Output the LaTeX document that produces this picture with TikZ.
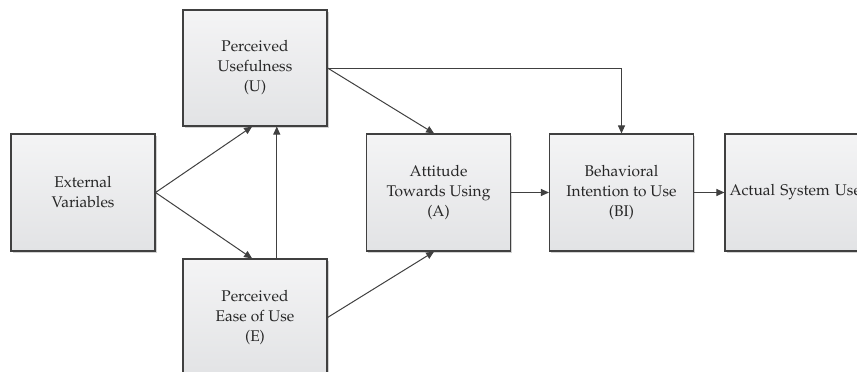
\documentclass[tikz,border=0pt]{standalone}
\usepackage[T1]{fontenc}
\renewcommand{\rmdefault}{ppl}
\usetikzlibrary{arrows.meta,calc,shadows}
\definecolor{edgegray}{HTML}{404040}
\definecolor{textgray}{HTML}{262626}
\definecolor{boxtop}{HTML}{F4F4F5}
\definecolor{boxbot}{HTML}{E2E3E5}
\tikzset{
  block/.style={draw=edgegray, line width=1.1pt, rectangle,
    minimum width=144pt, minimum height=117pt, inner sep=0pt,
    top color=boxtop, bottom color=boxbot,
    drop shadow={shadow xshift=1.5pt, shadow yshift=-1.5pt, fill=black!22, opacity=0.8},
    align=center, text=textgray,
    font=\fontsize{15.5}{20}\selectfont},
  arr/.style={draw=edgegray, line width=1pt, -{Triangle[length=8pt,width=7pt]}},
}
\begin{document}
\begin{tikzpicture}[x=1pt,y=-1pt]
\useasboundingbox (0,0) rectangle (857,372);
\begin{scope}
\clip (0,0) rectangle (857,372);
\node[block] (ext) at (83,192.5) {External\\Variables};
\node[block, minimum height=116pt] (pu) at (255,68) {Perceived\\Usefulness\\(U)};
\node[block] (pe) at (255,317.5) {Perceived\\Ease of Use\\(E)};
\node[block] (att) at (438.5,192.5) {Attitude\\Towards Using\\(A)};
\node[block] (bi) at (621.5,192.5) {Behavioral\\Intention to Use\\(BI)};
\node[block, text width=144pt, align=left] (asu) at (797,192.5) {\hspace*{4.5pt}Actual System Use};

\coordinate (puin) at ($(pu.south west)!0.48!(pu.south east)$);
\coordinate (peup) at ($(pe.north west)!0.65!(pe.north east)$);
\coordinate (pein) at ($(pe.north west)!0.48!(pe.north east)$);
\coordinate (atttop) at ($(att.north west)!0.47!(att.north east)$);
\coordinate (attbot) at ($(att.south west)!0.47!(att.south east)$);

\draw[arr] (ext.east) -- (puin);
\draw[arr] (ext.east) -- (pein);
\draw[arr] (peup) -- (peup |- pu.south);
\draw[arr] (pu.east) -- (atttop);
\draw[arr] (pu.east) -| (bi.north);
\draw[arr] (pe.east) -- (attbot);
\draw[arr] (att.east) -- (bi.west);
\draw[arr] (bi.east) -- (asu.west);
\end{scope}
\end{tikzpicture}
\end{document}
